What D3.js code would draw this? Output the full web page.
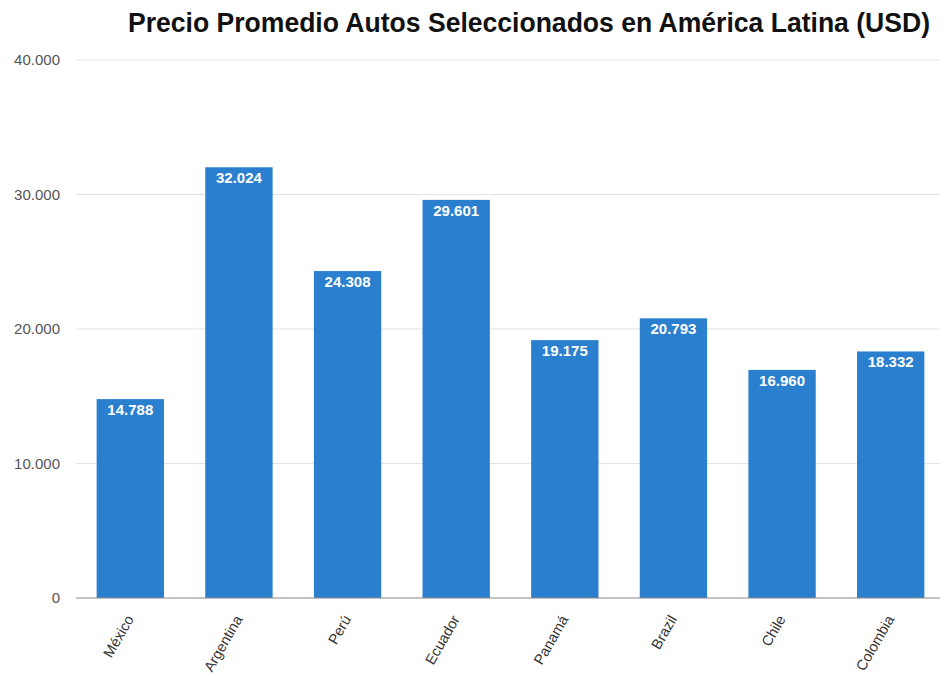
<!DOCTYPE html>
<html>
<head>
<meta charset="utf-8">
<script src="https://cdn.jsdelivr.net/npm/d3@7"></script>
<style>
  body { margin: 0; background: #fff; }
  svg { display: block; font-family: "Liberation Sans", Arial, sans-serif; }
</style>
</head>
<body>
<div id="chart"></div>
<script>
// === DATA ===
const countries = ["México", "Argentina", "Perú", "Ecuador", "Panamá", "Brazil", "Chile", "Colombia"];
const prices = [14788, 32024, 24308, 29601, 19175, 20793, 16960, 18332];
const yTicks = [0, 10000, 20000, 30000, 40000];

const width = 944, height = 676;
const svg = d3.select("#chart").append("svg")
  .attr("width", width)
  .attr("height", height);

const x = d3.scaleBand()
  .domain(countries)
  .range([76, 945])
  .paddingInner(0.38)
  .paddingOuter(0.19);

const y = d3.scaleLinear()
  .domain([0, 40000])
  .range([598, 60]);

// formato con punto de miles
const fmt = v => d3.format(",")(v).replace(/,/g, ".");

// --- title ---
svg.append("text")
  .attr("x", 529)
  .attr("y", 32)
  .attr("text-anchor", "middle")
  .attr("font-size", "27px")
  .attr("font-weight", "bold")
  .attr("fill", "#111")
  .attr("textLength", 802)
  .attr("lengthAdjust", "spacingAndGlyphs")
  .text("Precio Promedio Autos Seleccionados en América Latina (USD)");

// --- grid + y labels ---
const grid = svg.append("g");
grid.selectAll("line")
  .data(yTicks.filter(d => d > 0))
  .join("line")
  .attr("x1", 76).attr("x2", 940)
  .attr("y1", d => y(d)).attr("y2", d => y(d))
  .attr("stroke", "#e2e2e2")
  .attr("stroke-width", 1);

grid.selectAll("text")
  .data(yTicks)
  .join("text")
  .attr("x", 60)
  .attr("y", d => y(d))
  .attr("dy", "0.35em")
  .attr("text-anchor", "end")
  .attr("font-size", "15px")
  .attr("fill", "#555")
  .text(d => fmt(d));

// --- bars ---
svg.append("g").selectAll("rect")
  .data(prices)
  .join("rect")
  .attr("x", (d, i) => x(countries[i]))
  .attr("y", d => y(d))
  .attr("width", x.bandwidth())
  .attr("height", d => y(0) - y(d))
  .attr("fill", "#2a7fcf");

// --- value labels ---
svg.append("g").selectAll("text")
  .data(prices)
  .join("text")
  .attr("x", (d, i) => x(countries[i]) + x.bandwidth() / 2)
  .attr("y", d => y(d) + 16)
  .attr("text-anchor", "middle")
  .attr("font-size", "15px")
  .attr("font-weight", "bold")
  .attr("fill", "#fff")
  .text(d => fmt(d));

// --- baseline ---
svg.append("line")
  .attr("x1", 76).attr("x2", 940)
  .attr("y1", y(0)).attr("y2", y(0))
  .attr("stroke", "#888")
  .attr("stroke-width", 1.2);

// --- x labels ---
svg.append("g").selectAll("text")
  .data(countries)
  .join("text")
  .attr("transform", d => `translate(${x(d) + x.bandwidth() / 2 + 4},${619}) rotate(-60)`)
  .attr("text-anchor", "end")
  .attr("font-size", "14.5px")
  .attr("fill", "#333")
  .text(d => d);
</script>
</body>
</html>
